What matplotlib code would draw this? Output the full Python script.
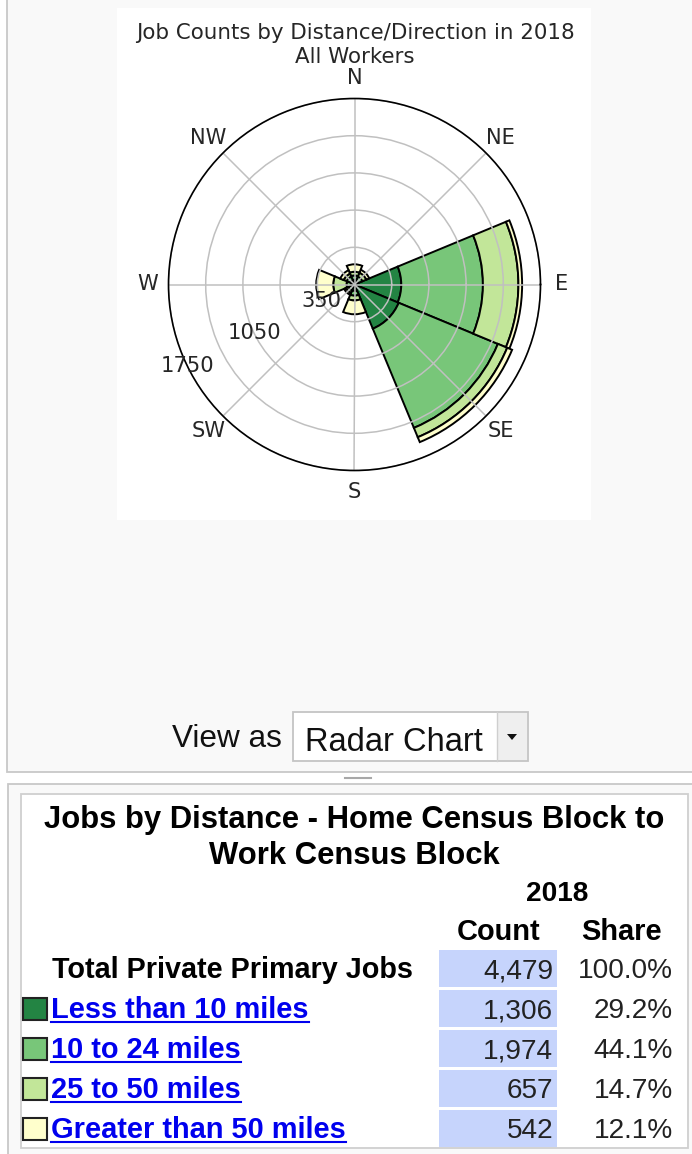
import numpy as np
import matplotlib.pyplot as plt
from matplotlib.patches import Rectangle, Polygon

# compass directions, counterclockwise from east
directions = ['E', 'NE', 'N', 'NW', 'W', 'SW', 'S', 'SE']
dir_angles = [0, 45, 90, 135, 180, 225, 270, 315]

# stacked job counts per direction
less_10 = [440, 35, 45, 40, 30, 30, 60, 450]
d10_24 = [768, 45, 40, 40, 45, 30, 45, 1010]
d25_50 = [334, 40, 35, 30, 125, 25, 45, 95]
over_50 = [35, 30, 70, 35, 160, 20, 130, 50]

ring_values = [350, 700, 1050, 1400, 1750]
ring_labels = ['350', '', '1050', '', '1750']

# table
categories = ['Less than 10 miles', '10 to 24 miles', '25 to 50 miles', 'Greater than 50 miles']
counts = [1306, 1974, 657, 542]
shares = [29.2, 44.1, 14.7, 12.1]
total_count = 4479
total_share = 100.0
colors = ['#238443', '#78c679', '#c2e699', '#ffffcc']

W, H = 692, 1154


def pt(px):
    return px * 0.72


fig = plt.figure(figsize=(W / 100, H / 100), dpi=100)
fig.patch.set_facecolor('white')
bg = fig.add_axes([0, 0, 1, 1])
bg.set_xlim(0, W)
bg.set_ylim(H, 0)
bg.axis('off')

html = 'Liberation Sans'
plot_font = 'DejaVu Sans'

# top panel
bg.add_patch(Rectangle((7, -5), 720, 777, facecolor='#f9f9f9', edgecolor='#c8c8c8', lw=1.3))
bg.add_patch(Rectangle((117, 8), 474, 512, facecolor='white', edgecolor='none'))
bg.plot([345, 371], [778, 778], color='#a8a8a8', lw=1.5)

# chart title
bg.text(355, 39, 'Job Counts by Distance/Direction in 2018', ha='center', va='baseline',
        fontsize=pt(21.4), family=plot_font, color='#262626')
bg.text(355, 63, 'All Workers', ha='center', va='baseline',
        fontsize=pt(21.4), family=plot_font, color='#262626')

# view as dropdown
bg.text(282, 747, 'View as', ha='right', va='baseline', fontsize=pt(31.5), family=html, color='#111111')
bg.add_patch(Rectangle((293, 712), 235, 49, facecolor='white', edgecolor='#c4c4c4', lw=1.3))
bg.add_patch(Rectangle((497, 713), 30, 47, facecolor='#efefef', edgecolor='none'))
bg.plot([497, 497], [712, 761], color='#cfcfcf', lw=1)
bg.add_patch(Polygon([[507, 734], [517, 734], [512, 740]], closed=True, facecolor='#111111', edgecolor='none'))
bg.text(305, 751, 'Radar Chart', ha='left', va='baseline', fontsize=pt(32.6), family=html, color='#111111')

# table panel
bg.add_patch(Rectangle((8, 784), 720, 400, facecolor='#f9f9f9', edgecolor='#c8c8c8', lw=1.3))
bg.add_patch(Rectangle((21, 794), 667, 354, facecolor='white', edgecolor='#cfcfcf', lw=1.3))

bg.text(354, 828, 'Jobs by Distance - Home Census Block to', ha='center', va='baseline',
        fontsize=pt(31), family=html, weight='bold', color='black')
bg.text(354, 864, 'Work Census Block', ha='center', va='baseline',
        fontsize=pt(31), family=html, weight='bold', color='black')
bg.text(557, 901, '2018', ha='center', va='baseline', fontsize=pt(28), family=html, weight='bold')
bg.text(499, 940, 'Count', ha='center', va='baseline', fontsize=pt(29), family=html, weight='bold')
bg.text(622, 940, 'Share', ha='center', va='baseline', fontsize=pt(29), family=html, weight='bold')

row_y = [968.5 + 40 * i for i in range(5)]
row_counts = [total_count] + counts
row_shares = [total_share] + shares
for y, c, s in zip(row_y, row_counts, row_shares):
    bg.add_patch(Rectangle((439, y - 18.5), 118, 37, facecolor='#c6d4fc', edgecolor='none'))
    bg.text(553, y + 10, f'{c:,}', ha='right', va='baseline', fontsize=pt(28), family=html, color='#222222')
    bg.text(673, y + 10, f'{s:.1f}%', ha='right', va='baseline', fontsize=pt(28), family=html, color='#222222')

bg.text(52, row_y[0] + 10, 'Total Private Primary Jobs', ha='left', va='baseline',
        fontsize=pt(28.7), family=html, weight='bold', color='black')

link_color = '#0000ee'
links = []
for y, cat, col in zip(row_y[1:], categories, colors):
    bg.add_patch(Rectangle((23, y - 11), 24, 22, facecolor=col, edgecolor='#222222', lw=1.5))
    t = bg.text(51, y + 10, cat, ha='left', va='baseline', fontsize=pt(29), family=html,
                weight='bold', color=link_color)
    links.append((t, y + 13))

# radar chart
cx, cy, R = 354.5, 284.5, 186
ax = fig.add_axes([(cx - R) / W, 1 - (cy + R) / H, 2 * R / W, 2 * R / H], projection='polar')
ax.set_facecolor('white')
theta = np.deg2rad(dir_angles)
base = np.zeros(len(directions))
for vals, col in zip([less_10, d10_24, d25_50, over_50], colors):
    ax.bar(theta, vals, width=np.pi / 4, bottom=base, color=col, edgecolor='black', linewidth=1.4)
    base += np.array(vals)

ax.set_ylim(0, ring_values[-1])
ax.set_yticks(ring_values)
ax.set_yticklabels([])
ax.set_xticks(theta)
ax.set_xticklabels([])
ax.grid(color='#c0c0c0', linewidth=1.1)
ax.spines['polar'].set_color('black')
ax.spines['polar'].set_linewidth(1.2)

label_r = ring_values[-1] * 207 / R
for a, d in zip(dir_angles, directions):
    ax.text(np.deg2rad(a), label_r, d, ha='center', va='center', fontsize=pt(21),
            family=plot_font, color='#262626', clip_on=False)
for v, lab in zip(ring_values, ring_labels):
    if lab:
        ax.text(np.deg2rad(206), v, lab, ha='center', va='center', fontsize=pt(21),
                family=plot_font, color='#262626', clip_on=False)

# underline links
fig.canvas.draw()
inv = bg.transData.inverted()
for t, uy in links:
    bb = t.get_window_extent()
    x0 = inv.transform((bb.x0, bb.y0))[0]
    x1 = inv.transform((bb.x1, bb.y0))[0]
    bg.plot([x0, x1], [uy, uy], color=link_color, lw=1.5)

fig.savefig('out.png', dpi=100)
